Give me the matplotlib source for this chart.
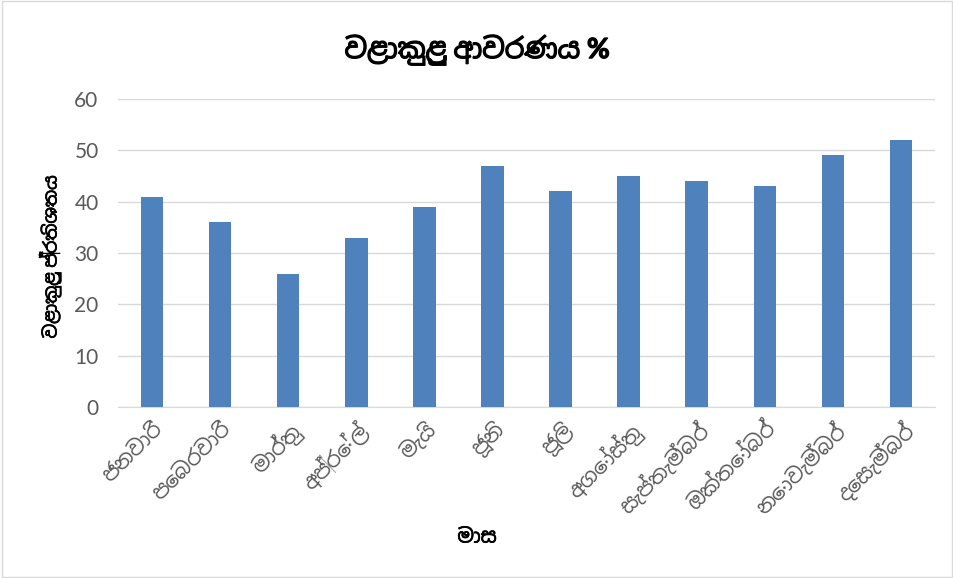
import matplotlib
matplotlib.use("Agg")
import matplotlib.pyplot as plt
import matplotlib.patheffects as pe
from matplotlib import font_manager
from matplotlib.ft2font import FT2Font

months = ["ජනවාරි", "පෙබරවාරි", "මාර්තු", "අප්‍රේල්", "මැයි", "ජූනි",
          "ජූලි", "අගෝස්තු", "සැප්තැම්බර්", "ඔක්තෝබර්", "නොවැම්බර්", "දෙසැම්බර්"]
cover = [41, 36, 26, 33, 39, 47, 42, 45, 44, 43, 49, 52]
yticks = [0, 10, 20, 30, 40, 50, 60]

title = "වළාකුළු ආවරණය %"
ylabel = "වළාකුළු ප්‍රතිශතය"
xlabel = "මාස"

# find any installed font that has Sinhala glyphs, sans first
sinhala = set()
for f in font_manager.fontManager.ttflist:
    try:
        if 0x0DC0 in FT2Font(f.fname).get_charmap():
            sinhala.add(f.name)
    except Exception:
        pass
sinhala = sorted(sinhala, key=lambda n: ("Sans" not in n, n))
plt.rcParams["font.family"] = ["Lato"] + sinhala + ["DejaVu Sans"]

# fake bold, the Sinhala font may have no bold face
bold = [pe.withStroke(linewidth=0.9, foreground="black")]
semibold = [pe.withStroke(linewidth=0.5, foreground="black")]

fig = plt.figure(figsize=(9.54, 5.78), dpi=100)
ax = fig.add_axes([118 / 954, 1 - 407 / 578, (935 - 118) / 954, (407 - 99) / 578])
fig.patches.append(plt.Rectangle((0.002, 0.002), 0.996, 0.996, transform=fig.transFigure,
                                 fill=False, ec="#d9d9d9", lw=1))

x = range(len(months))
ax.bar(x, cover, width=0.33, color="#4f81bd", zorder=3)
ax.set_xlim(-0.5, len(months) - 0.5)
ax.set_ylim(0, 60)
ax.set_yticks(yticks)
ax.grid(axis="y", color="#d9d9d9", lw=1, zorder=0)
for s in ["top", "right", "left"]:
    ax.spines[s].set_visible(False)
ax.spines["bottom"].set_color("#d9d9d9")
ax.tick_params(axis="both", length=0, colors="#595959", labelsize=15)
ax.tick_params(axis="y", pad=14)
ax.tick_params(axis="x", pad=8)
ax.set_xticks(list(x))
ax.set_xticklabels(months, rotation=45, ha="right", rotation_mode="anchor", fontsize=15)

fig.text(0.5, 1 - 50 / 578, title, ha="center", va="center", fontsize=20,
         fontweight="bold", path_effects=bold)
fig.text(0.5, 1 - 537 / 578, xlabel, ha="center", va="center", fontsize=14,
         fontweight="bold", path_effects=semibold)
fig.text(50 / 954, 1 - 257 / 578, ylabel, ha="center", va="center", rotation=90,
         fontsize=13, fontweight="bold", path_effects=semibold)

fig.savefig("out.png", dpi=100)
